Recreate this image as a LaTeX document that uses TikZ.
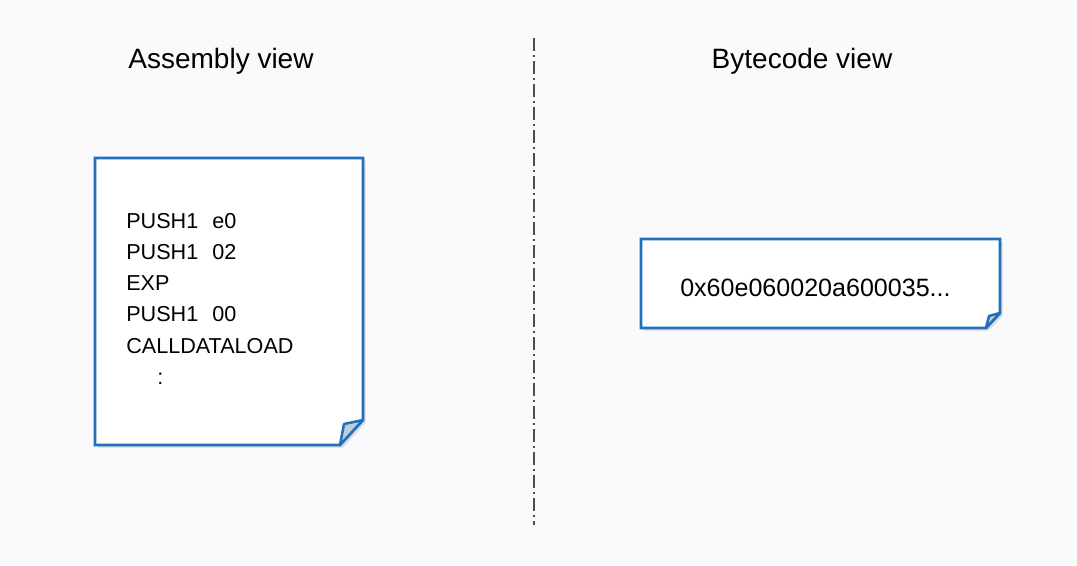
\documentclass[tikz,border=0pt]{standalone}
\usepackage{fontspec}
\setmainfont{Liberation Sans}
\usetikzlibrary{positioning,shadows}
\definecolor{notebg}{HTML}{FAFAFC}
\definecolor{noteblue}{HTML}{1F71BD}
\definecolor{foldgray}{HTML}{C3CCD6}
\tikzstyle{title} = [inner sep=0pt, anchor=base, font=\fontsize{21}{25}\selectfont]
\tikzstyle{code} = [inner sep=0pt, anchor=base west, font=\fontsize{16.2}{20}\selectfont]
\tikzstyle{note} = [draw=noteblue, line width=1.9pt, fill=white, line join=miter, miter limit=2,
    drop shadow={shadow xshift=2pt, shadow yshift=-2pt, opacity=0.25, fill=gray}]
\tikzstyle{fold} = [draw=noteblue, line width=1.9pt, fill=foldgray, line join=round]
\tikzstyle{divider} = [draw=black!70, line width=1.1pt,
    dash pattern=on 9.75pt off 3pt on 1.5pt off 3pt]

\begin{document}
\begin{tikzpicture}[x=0.75pt, y=-0.75pt]
		% Background
		\fill [notebg] (0,0) rectangle (1077,565);
		\useasboundingbox (0,0) rectangle (1077,565);
		% Headings
		\node [title] (asmtitle) at (221,68) {Assembly view};
		\node [title] (bytetitle) at (802,68) {Bytecode view};
		% Divider
		\coordinate (divtop) at (534,38);
		\coordinate (divbottom) at (534,525);
		\path [divider] (divtop) -- (divbottom);
		% Assembly note
		\path [note] (95,158) -- (363,158) -- (363,420) -- (340,445) -- (95,445) -- cycle;
		\path [fold] (363,420) -- (344,424) -- (340,445) -- cycle;
		% Bytecode note
		\path [note] (641,239) -- (1000,239) -- (1000,313) -- (986,328) -- (641,328) -- cycle;
		\path [fold] (1000,313) -- (989,316) -- (986,328) -- cycle;
		% Assembly lines
		\node [code] (line1) at (126,228) {PUSH1\hspace{0.65em}e0};
		\node [code] (line2) at (126,259.3) {PUSH1\hspace{0.65em}02};
		\node [code] (line3) at (126,290.6) {EXP};
		\node [code] (line4) at (126,321.9) {PUSH1\hspace{0.65em}00};
		\node [code] (line5) at (126,353.2) {CALLDATALOAD};
		\node [code] (line6) at (157,384.5) {:};
		% Bytecode line
		\node [code, font=\fontsize{18.8}{22}\selectfont] (bytes) at (680,296) {0x60e060020a600035...};
	\end{tikzpicture}
\end{document}
